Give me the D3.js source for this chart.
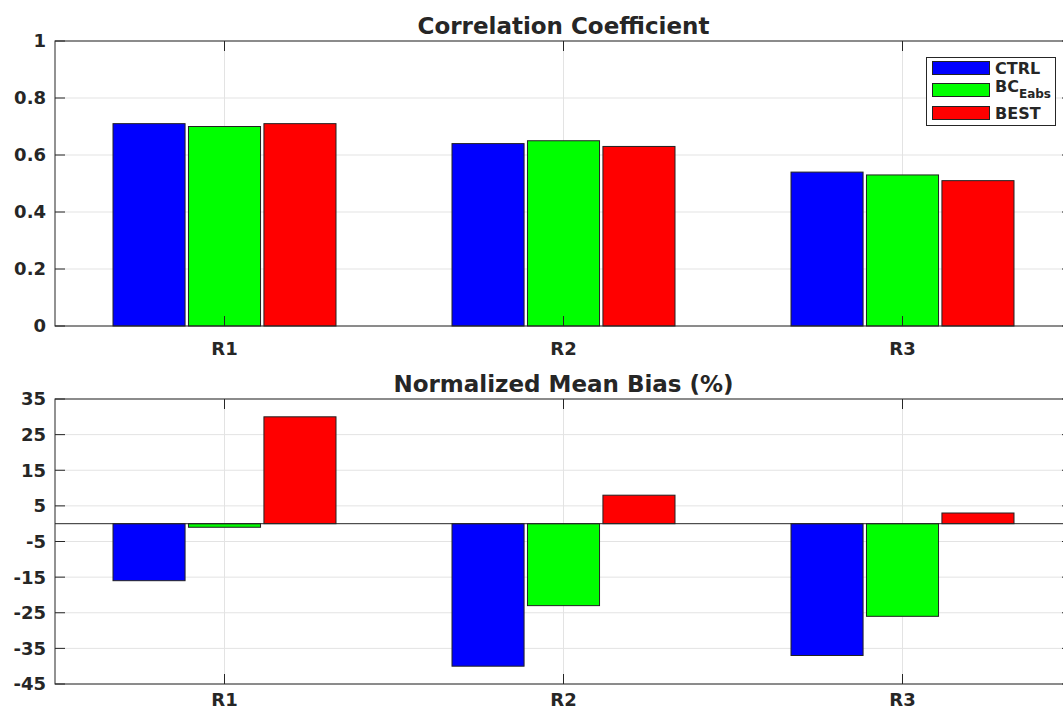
<!DOCTYPE html>
<html><head><meta charset="utf-8">
<script src="https://cdn.jsdelivr.net/npm/d3@7"></script>
<style>body{margin:0;background:#fff}svg{display:block}text{font-family:"DejaVu Sans",sans-serif;font-weight:bold;fill:#262626}</style>
</head><body>
<script>
const categories = ["R1","R2","R3"];
const seriesNames = ["CTRL","BCEabs","BEST"];
const seriesColors = ["#0000ff","#00ff00","#ff0000"];
const corrCTRL = [0.71,0.64,0.54];
const corrBCEabs = [0.70,0.65,0.53];
const corrBEST = [0.71,0.63,0.51];
const nmbCTRL = [-16,-40,-37];
const nmbBCEabs = [-1,-23,-26];
const nmbBEST = [30,8,3];
const corrTicks = [0,0.2,0.4,0.6,0.8,1];
const corrTickLabels = ["0","0.2","0.4","0.6","0.8","1"];
const nmbTicks = [-45,-35,-25,-15,-5,5,15,25,35];

const W=1063,H=711;
const svg=d3.select("body").append("svg").attr("width",W).attr("height",H);
const L=55,R=1072;
const x=d3.scaleBand().domain(categories).range([L,R]).padding(0);
const xs=d3.scaleBand().domain(seriesNames).range([-111.5,111.5]).paddingInner(0.045).paddingOuter(0);
const ink="#262626", grid="#e3e3e3", tl=10;

function panel(top,bottom,domain,ticks,tickLabels,seriesData,title,baseline,xlabOff){
  const y=d3.scaleLinear().domain(domain).range([bottom,top]);
  const g=svg.append("g");
  g.selectAll(".gy").data(ticks).join("line").attr("x1",L).attr("x2",R)
    .attr("y1",d=>y(d)).attr("y2",d=>y(d)).attr("stroke",grid).attr("stroke-width",1);
  g.selectAll(".gx").data(categories).join("line").attr("x1",d=>x(d)+x.bandwidth()/2).attr("x2",d=>x(d)+x.bandwidth()/2)
    .attr("y1",top).attr("y2",bottom).attr("stroke",grid).attr("stroke-width",1);
  seriesData.forEach((vals,si)=>{
    g.selectAll(null).data(vals).join("rect")
      .attr("x",(d,i)=>x(categories[i])+x.bandwidth()/2+xs(seriesNames[si]))
      .attr("width",xs.bandwidth())
      .attr("y",d=>y(Math.max(0,d)))
      .attr("height",d=>Math.abs(y(d)-y(0)))
      .attr("fill",seriesColors[si]).attr("stroke","#222").attr("stroke-width",1);
  });
  if(baseline){
    g.append("line").attr("x1",L).attr("x2",R).attr("y1",y(0)).attr("y2",y(0)).attr("stroke",ink).attr("stroke-width",1);
  }
  g.append("rect").attr("x",L).attr("y",top).attr("width",R-L).attr("height",bottom-top)
    .attr("fill","none").attr("stroke",ink).attr("stroke-width",1);
  g.selectAll(".ty").data(ticks).join("line").attr("x1",L).attr("x2",L+tl).attr("y1",d=>y(d)).attr("y2",d=>y(d)).attr("stroke",ink);
  g.selectAll(".ty2").data(ticks).join("line").attr("x1",R-tl).attr("x2",R).attr("y1",d=>y(d)).attr("y2",d=>y(d)).attr("stroke",ink);
  g.selectAll(".tyl").data(ticks).join("text").attr("x",L-9).attr("y",d=>y(d)).attr("dy","0.36em")
    .attr("text-anchor","end").attr("font-size",18).text((d,i)=>tickLabels[i]);
  const cx=d=>x(d)+x.bandwidth()/2;
  g.selectAll(".tx").data(categories).join("line").attr("x1",cx).attr("x2",cx).attr("y1",bottom-tl).attr("y2",bottom).attr("stroke",ink);
  g.selectAll(".tx2").data(categories).join("line").attr("x1",cx).attr("x2",cx).attr("y1",top).attr("y2",top+tl).attr("stroke",ink);
  g.selectAll(".txl").data(categories).join("text").attr("x",cx).attr("y",bottom+xlabOff)
    .attr("text-anchor","middle").attr("font-size",18).text(d=>d);
  g.append("text").attr("x",(L+R)/2).attr("y",top-7).attr("text-anchor","middle").attr("font-size",23).text(title);
}

panel(41,326,[0,1],corrTicks,corrTickLabels,[corrCTRL,corrBCEabs,corrBEST],"Correlation Coefficient",false,29);
panel(399,684,[-45,35],nmbTicks,nmbTicks.map(String),[nmbCTRL,nmbBCEabs,nmbBEST],"Normalized Mean Bias (%)",true,22);

const lg=svg.append("g");
lg.append("rect").attr("x",926.5).attr("y",57.5).attr("width",129).attr("height",68).attr("fill","#fff").attr("stroke",ink);
const ly=[68,90,113];
seriesNames.forEach((s,i)=>{
  lg.append("rect").attr("x",932.5).attr("y",ly[i]-6.5).attr("width",57).attr("height",13).attr("fill",seriesColors[i]).attr("stroke","#222");
  const t=lg.append("text").attr("x",995).attr("y",ly[i]).attr("dy","0.36em").attr("font-size",16);
  if(s==="BCEabs"){
    t.attr("dy","0.1em");
    t.append("tspan").text("BC");
    t.append("tspan").attr("font-size",12).attr("dy","0.55em").text("Eabs");
  } else t.text(s);
});
</script>
</body></html>
